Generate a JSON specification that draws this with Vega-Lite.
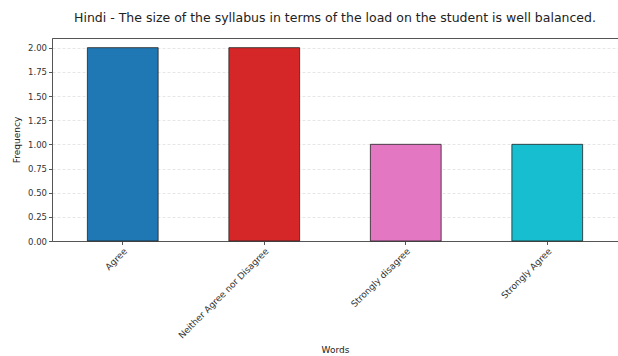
{
  "$schema": "https://vega.github.io/schema/vega-lite/v6.json",
  "width": 566,
  "height": 203,
  "autosize": {"type": "none"},
  "padding": {"left": 52, "top": 38, "right": 0, "bottom": 115},
  "background": "white",
  "title": {"text": "Hindi - The size of the syllabus in terms of the load on the student is well balanced.", "fontSize": 12.5, "font": "DejaVu Sans", "fontWeight": "normal", "color": "#222", "offset": 14, "anchor": "middle"},
  "config": {"view": {"stroke": "#555", "strokeWidth": 1}},
  "data": {"values": [
    {"word": "Agree", "freq": 2},
    {"word": "Neither Agree nor Disagree", "freq": 2},
    {"word": "Strongly disagree", "freq": 1},
    {"word": "Strongly Agree", "freq": 1}
  ]},
  "mark": {"type": "bar", "stroke": "#222", "strokeWidth": 0.8},
  "encoding": {
    "x": {"field": "word", "type": "nominal", "sort": null,
      "scale": {"paddingInner": 0.5, "paddingOuter": 0.25},
      "axis": {"title": "Words", "titleFont": "DejaVu Sans", "titleFontSize": 9, "titleFontWeight": "normal", "titleColor": "#222", "titlePadding": 6,
        "labelAngle": -45, "labelAlign": "right", "labelBaseline": "top", "labelFont": "DejaVu Sans", "labelFontSize": 9, "labelColor": "#333",
        "domainColor": "#555", "tickColor": "#555", "tickSize": 3.5}},
    "y": {"field": "freq", "type": "quantitative",
      "scale": {"domain": [0, 2.1], "nice": false},
      "axis": {"title": "Frequency", "values": [0, 0.25, 0.5, 0.75, 1, 1.25, 1.5, 1.75, 2], "format": ".2f",
        "titleFont": "DejaVu Sans", "titleFontSize": 9, "titleFontWeight": "normal", "titleColor": "#222", "titlePadding": 6,
        "labelFont": "DejaVu Sans", "labelFontSize": 8.5, "labelColor": "#333",
        "grid": true, "gridColor": "#e6e6e6", "gridDash": [3, 2],
        "domainColor": "#555", "tickColor": "#555", "tickSize": 3.5}},
    "color": {"field": "word", "type": "nominal", "sort": null,
      "scale": {"domain": ["Agree", "Neither Agree nor Disagree", "Strongly disagree", "Strongly Agree"], "range": ["#1f77b4", "#d62728", "#e377c2", "#17becf"]},
      "legend": null}
  }
}
